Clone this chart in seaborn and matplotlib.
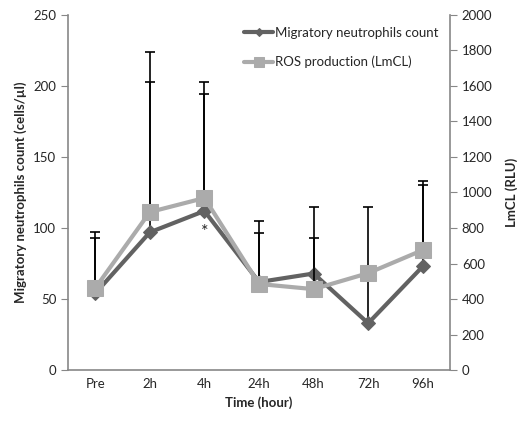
import numpy as np
import pandas as pd
import seaborn as sns
import matplotlib.pyplot as plt

# Datos
tiempos = ['Pre', '2h', '4h', '24h', '48h', '72h', '96h']
neutrofilos = [54, 97, 112, 62, 68, 33, 73]
neutrofilos_err = [43, 127, 91, 43, 47, 82, 60]
ros = [462, 890, 969, 485, 456, 546, 676]
ros_err = [282, 734, 583, 287, 288, np.nan, 364]

df = pd.DataFrame({'tiempo': tiempos, 'pos': range(len(tiempos)),
                   'neutro': neutrofilos, 'ros': ros})

sns.set_style('white')
plt.rcParams['font.family'] = ['Lato', 'DejaVu Sans']

col_neutro = '#626262'
col_ros = '#ababab'
col_eje = '#878787'

fig = plt.figure(figsize=(5.27, 4.24), dpi=100)
ax1 = fig.add_axes([0.129, 0.127, 0.725, 0.838])
ax2 = ax1.twinx()

# Barras de error (solo hacia arriba)
ax1.errorbar(df['pos'], df['neutro'], yerr=[np.zeros(len(df)), neutrofilos_err],
             fmt='none', ecolor='black', elinewidth=1.2, capsize=3.5, capthick=1.2, zorder=1)
ax2.errorbar(df['pos'], df['ros'], yerr=[np.zeros(len(df)), ros_err],
             fmt='none', ecolor='black', elinewidth=1.2, capsize=3.5, capthick=1.2, zorder=1)

sns.lineplot(data=df, x='pos', y='neutro', ax=ax1, color=col_neutro, linewidth=3,
             marker='D', markersize=7, markeredgecolor=col_neutro, zorder=3,
             label='Migratory neutrophils count', legend=False)
sns.lineplot(data=df, x='pos', y='ros', ax=ax2, color=col_ros, linewidth=3,
             marker='s', markersize=11, markeredgecolor=col_ros, zorder=3,
             label='ROS production (LmCL)', legend=False)

ax1.text(df['pos'][2], 97, '*', ha='center', va='center', fontsize=13)

ax1.set_xlim(-0.5, 6.5)
ax1.set_ylim(0, 250)
ax2.set_ylim(0, 2000)
ax1.set_yticks(range(0, 251, 50))
ax2.set_yticks(range(0, 2001, 200))
ax1.set_xticks(df['pos'])
ax1.set_xticklabels(tiempos)
ax1.set_xticks(np.arange(-0.5, 7, 1), minor=True)
ax1.tick_params(axis='x', which='major', length=0, pad=6, labelsize=9.5)
ax1.tick_params(axis='x', which='minor', length=5, color=col_eje, direction='out')
ax1.tick_params(axis='y', length=5, color=col_eje, direction='out', labelsize=9.5, left=True)
ax2.tick_params(axis='y', length=5, color=col_eje, direction='out', labelsize=9.5, right=True)

for ax in (ax1, ax2):
    for s in ax.spines.values():
        s.set_visible(False)
ax1.spines['left'].set_visible(True)
ax1.spines['bottom'].set_visible(True)
ax2.spines['right'].set_visible(True)
for s in (ax1.spines['left'], ax1.spines['bottom'], ax2.spines['right']):
    s.set_color(col_eje)
    s.set_linewidth(1.2)

ax1.set_xlabel('Time (hour)', fontweight='bold', fontsize=9.5)
ax1.set_ylabel('Migratory neutrophils count (cells/µl)', fontweight='bold', fontsize=9.5)
ax2.set_ylabel('LmCL (RLU)', fontweight='bold', fontsize=9.5, labelpad=9)

h1, l1 = ax1.get_legend_handles_labels()
h2, l2 = ax2.get_legend_handles_labels()
ax2.legend(h1 + h2, l1 + l2, loc='upper right', bbox_to_anchor=(1.0, 1.0), frameon=False,
           fontsize=9.5, handlelength=2.2, handletextpad=0.1, labelspacing=1.3,
           markerscale=0.6)

plt.savefig('out.png', dpi=100)
